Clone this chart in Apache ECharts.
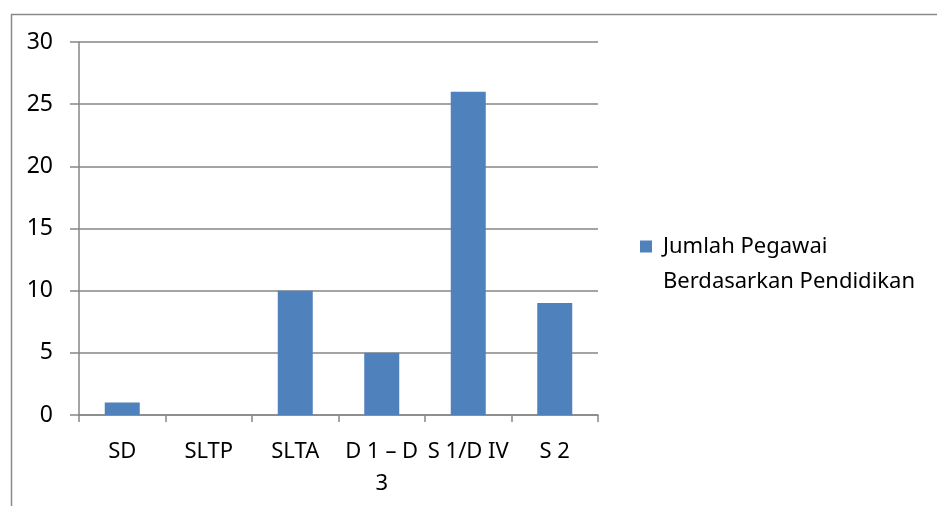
<!DOCTYPE html>
<html><head><meta charset="utf-8">
<script src="https://cdn.jsdelivr.net/npm/echarts@6/dist/echarts.min.js"></script>
<style>html,body{margin:0;padding:0;background:#fff}#c{width:937px;height:506px}</style>
</head><body><div id="c"></div>
<script>
var categories = ['SD', 'SLTP', 'SLTA', 'D 1 – D\n3', 'S 1/D IV', 'S 2'];
var seriesName = 'Jumlah Pegawai\nBerdasarkan Pendidikan';
var values = [1, 0, 10, 5, 26, 9];
var yTicks = {min: 0, max: 30, interval: 5};

var FONT = 'Noto Sans';
var chart = echarts.init(document.getElementById('c'));
chart.setOption({
  animation: false,
  textStyle: {fontFamily: FONT},
  graphic: [{
    type: 'rect', left: 9, top: 12, silent: true,
    shape: {width: 1000, height: 1000},
    style: {fill: 'none', stroke: '#8a8a8a', lineWidth: 1.5}
  }],
  grid: {left: 79, right: 339, top: 42, bottom: 91, containLabel: false},
  legend: {
    left: 640, top: 229, padding: 0,
    itemWidth: 12, itemHeight: 47,
    icon: 'path://M0,0h12v12h-12z M0,46.99h0.01v0.01h-0.01z',
    data: [seriesName],
    textStyle: {fontFamily: FONT, fontSize: 22, color: '#000', lineHeight: 35, padding: [0, 0, 0, 6]}
  },
  xAxis: {
    type: 'category', data: categories,
    axisLine: {lineStyle: {color: '#868686', width: 1.5}},
    axisTick: {show: true, length: 7, lineStyle: {color: '#868686', width: 1.5}},
    axisLabel: {color: '#000', fontSize: 22, fontFamily: FONT, margin: 21, lineHeight: 32, interval: 0}
  },
  yAxis: {
    type: 'value', min: yTicks.min, max: yTicks.max, interval: yTicks.interval,
    axisLine: {show: true, lineStyle: {color: '#868686', width: 1.5}},
    axisTick: {show: true, length: 9, lineStyle: {color: '#868686', width: 1.5}},
    splitLine: {lineStyle: {color: '#868686', width: 1.5}},
    axisLabel: {color: '#000', fontSize: 23, fontFamily: FONT, margin: 26}
  },
  series: [{
    name: seriesName, type: 'bar', data: values,
    barWidth: 35,
    itemStyle: {color: '#4f81bd'}
  }]
});
</script></body></html>
